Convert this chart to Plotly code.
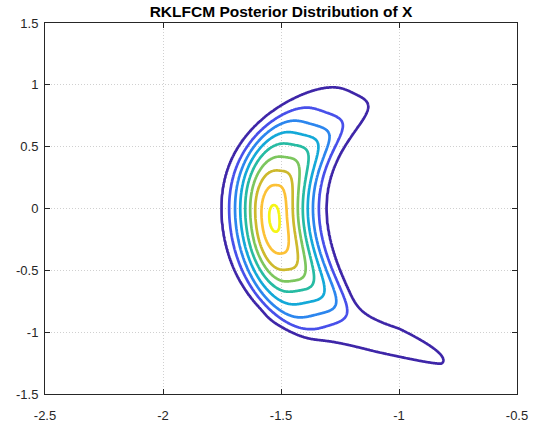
import numpy as np
import plotly.graph_objects as go

# ---------------- values ----------------
# ridge (centre line) of the crescent: x position of the ridge at several y
ridge_pts_y = [0.93, 0.85, 0.741, 0.579, 0.31, 0.041, -0.228, -0.497, -0.766, -0.95]
ridge_pts_x = [-1.18, -1.27, -1.35, -1.410, -1.495, -1.539, -1.52, -1.466, -1.391, -1.30]

# contour levels of the body: value, centre (along ridge), half-length, half-width, squareness
level_value    = [0, 1, 2, 3, 4, 5, 6, 7, 8, 9, 9.35]
level_center_y = [-0.045, -0.045, -0.081, -0.087, -0.08, -0.074, -0.085, -0.094, -0.087, -0.08, -0.08]
level_half_len = [1.25, 0.975, 0.86, 0.77, 0.68, 0.59, 0.50, 0.40, 0.277, 0.108, 0.004]
level_half_wid = [0.33, 0.222, 0.19, 0.165, 0.143, 0.122, 0.101, 0.08, 0.054, 0.022, 0.001]
level_power    = [3.5, 3.5, 3.8, 4, 3.8, 3.5, 3.2, 3.0, 2.6, 2.2, 2.0]

# lower-right tail of the outermost level
tail_center = [-1.079, -1.112]
tail_dir = [0.883, -0.469]
tail_front = 0.29
tail_back = 0.42
tail_half_up = 0.155
tail_half_down = 0.045
tail_power_front = 1.1
tail_power_back = 4.0

levels = [1, 2, 3, 4, 5, 6, 7, 8, 9]
level_colors = ["#3e26a8", "#4850ea", "#2c86ee", "#14a9d8", "#27bba3",
                "#7cc65e", "#cdb92d", "#fcc136", "#f5f516"]

x_ticks = [-2.5, -2, -1.5, -1, -0.5]
x_tick_text = ["-2.5", "-2", "-1.5", "-1", "-0.5"]
y_ticks = [-1.5, -1, -0.5, 0, 0.5, 1, 1.5]
y_tick_text = ["-1.5", "-1", "-0.5", "0", "0.5", "1", "1.5"]

# ---------------- build the density surface ----------------
x_grid = np.linspace(-2.5, -0.5, 501)
y_grid = np.linspace(-1.5, 1.5, 501)
X, Y = np.meshgrid(x_grid, y_grid)

cfun = np.poly1d(np.polyfit(ridge_pts_y, ridge_pts_x, 4))
d1 = cfun.deriv()
d2 = d1.deriv()

# project each grid point onto the ridge (Newton on the orthogonality condition)
t0 = Y.copy()
for _ in range(8):
    e = X - cfun(t0)
    F = e * d1(t0) + (Y - t0)
    Fp = -d1(t0) ** 2 + e * d2(t0) - 1.0
    t0 = np.clip(t0 - F / Fp, -2.0, 2.0)
e = X - cfun(t0)
u = np.sign(e) * np.sqrt(e ** 2 + (Y - t0) ** 2)


def g_at(lam):
    yc = np.interp(lam, level_value, level_center_y)
    h = np.interp(lam, level_value, level_half_len)
    d = np.interp(lam, level_value, level_half_wid)
    p = np.interp(lam, level_value, level_power)
    return (np.abs(u) / d) ** p + (np.abs(t0 - yc) / h) ** p


lo = np.zeros_like(X)
hi = np.full_like(X, level_value[-1])
for _ in range(40):
    mid = 0.5 * (lo + hi)
    inside = g_at(mid) < 1.0
    lo = np.where(inside, mid, lo)
    hi = np.where(inside, hi, mid)
g0 = g_at(np.zeros_like(X))
z_body = np.where(g0 < 1.0, 0.5 * (lo + hi), 1.0 - g0)

# tail
ax, ay = tail_dir
s = (X - tail_center[0]) * ax + (Y - tail_center[1]) * ay
v = -(X - tail_center[0]) * ay + (Y - tail_center[1]) * ax
L = np.where(s > 0, tail_front, tail_back)
P = np.where(s > 0, tail_power_front, tail_power_back)
W = np.where(v > 0, tail_half_up, tail_half_down)
g_tail = (np.abs(s) / L) ** P + (v / W) ** 2
z_tail = 1.5 - 0.5 * g_tail

k = 0.4
m = np.maximum(z_body, z_tail)
Z = m + k * np.log(np.exp((z_body - m) / k) + np.exp((z_tail - m) / k))

# ---------------- figure ----------------
n = len(levels)
colorscale = [[i / (n - 1), c] for i, c in enumerate(level_colors)]

fig = go.Figure(go.Contour(
    x=x_grid, y=y_grid, z=Z,
    contours=dict(start=levels[0], end=levels[-1], size=levels[1] - levels[0],
                  coloring="lines"),
    colorscale=colorscale, zauto=False, zmin=levels[0], zmax=levels[-1],
    showscale=False, line=dict(width=2.7, smoothing=1),
    hoverinfo="skip",
))

axis_common = dict(
    showline=True, linecolor="#262626", linewidth=1, mirror="ticks",
    ticks="inside", ticklen=5, tickcolor="#262626", tickwidth=1,
    showgrid=True, gridcolor="#d0d0d0", griddash="1px,2px", gridwidth=1,
    zeroline=False, automargin=False,
    tickfont=dict(family="Liberation Sans, Arial, sans-serif", size=13, color="#262626"),
)

fig.update_layout(
    width=537, height=423,
    margin=dict(l=45, r=20, t=23, b=29),
    paper_bgcolor="white", plot_bgcolor="white",
    title=dict(text="<b>RKLFCM Posterior Distribution of X</b>",
               x=(45 + 517) / 2 / 537, xanchor="center",
               y=1 - 12 / 423, yanchor="middle", yref="container",
               font=dict(family="Liberation Sans, Arial, sans-serif", size=15.5, color="#000000")),
    xaxis=dict(range=[-2.5, -0.5], tickvals=x_ticks, ticktext=x_tick_text,
               ticklabelstandoff=9, **axis_common),
    yaxis=dict(range=[-1.5, 1.5], tickvals=y_ticks, ticktext=y_tick_text,
               ticklabelstandoff=3, **axis_common),
    showlegend=False,
)

fig.write_html("out.html", config={"displayModeBar": False},
               post_script="document.body.style.margin='0px';")
